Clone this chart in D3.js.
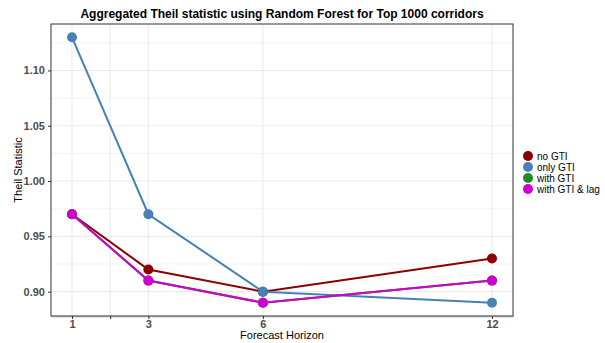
<!DOCTYPE html>
<html>
<head>
<meta charset="utf-8">
<script src="https://cdn.jsdelivr.net/npm/d3@7"></script>
<style>
  html, body { margin: 0; padding: 0; background: #fff; }
  svg { display: block; font-family: "Liberation Sans", Arial, sans-serif; }
</style>
</head>
<body>
<svg id="chart" width="605" height="343"></svg>
<script>
// Forecast horizons and aggregated Theil statistic per model variant
const horizons = [1, 3, 6, 12];
const seriesNames = ["no GTI", "only GTI", "with GTI", "with GTI & lag"];
const noGTI = [0.97, 0.92, 0.90, 0.93];
const onlyGTI = [1.13, 0.97, 0.90, 0.89];
const withGTI = [0.97, 0.91, 0.89, 0.91];
const withGTILag = [0.97, 0.91, 0.89, 0.91];
const seriesColors = ["#8B0000", "#4682B4", "#228B22", "#CD00CD"];

const xTickValues = [1, 2, 3, 6, 12];
const xTickLabels = ["1", "", "3", "6", "12"];
const yTickValues = [0.90, 0.95, 1.00, 1.05, 1.10];
const yMinorValues = [0.925, 0.975, 1.025, 1.075, 1.125];

const titleText = "Aggregated Theil statistic using Random Forest for Top 1000 corridors";
const xTitle = "Forecast Horizon";
const yTitle = "Theil Statistic";

const seriesValues = [noGTI, onlyGTI, withGTI, withGTILag];
const series = seriesNames.map((name, i) => ({
  name, color: seriesColors[i],
  points: horizons.map((h, j) => ({ h, v: seriesValues[i][j] }))
}));

const svg = d3.select("#chart");
const panel = { left: 51, right: 513, top: 24, bottom: 316 };

// Data range padded by 5% on each side
const xExt = d3.extent(horizons);
const xPad = (xExt[1] - xExt[0]) * 0.05;
const allVals = seriesValues.flat();
const yExt = d3.extent(allVals);
const yPad = (yExt[1] - yExt[0]) * 0.05;

const x = d3.scaleLinear().domain([xExt[0] - xPad, xExt[1] + xPad]).range([panel.left, panel.right]);
const y = d3.scaleLinear().domain([yExt[0] - yPad, yExt[1] + yPad]).range([panel.bottom, panel.top]);

// Grid
const grid = svg.append("g");
grid.selectAll(".ymin").data(yMinorValues).join("line")
  .attr("x1", panel.left).attr("x2", panel.right)
  .attr("y1", d => y(d)).attr("y2", d => y(d))
  .attr("stroke", "#F0F0F0").attr("stroke-width", 0.8);
grid.selectAll(".ymaj").data(yTickValues).join("line")
  .attr("x1", panel.left).attr("x2", panel.right)
  .attr("y1", d => y(d)).attr("y2", d => y(d))
  .attr("stroke", "#EBEBEB").attr("stroke-width", 1.1);
grid.selectAll(".xmaj").data(xTickValues).join("line")
  .attr("y1", panel.top).attr("y2", panel.bottom)
  .attr("x1", d => x(d)).attr("x2", d => x(d))
  .attr("stroke", "#EBEBEB").attr("stroke-width", 1.1);

// Lines then points
const line = d3.line().x(d => x(d.h)).y(d => y(d.v));
svg.append("g").selectAll("path").data(series).join("path")
  .attr("d", d => line(d.points))
  .attr("fill", "none")
  .attr("stroke", d => d.color)
  .attr("stroke-width", 2);

svg.append("g").selectAll("g").data(series).join("g")
  .attr("fill", d => d.color)
  .selectAll("circle").data(d => d.points).join("circle")
  .attr("cx", d => x(d.h)).attr("cy", d => y(d.v)).attr("r", 5);

// Panel border
svg.append("rect")
  .attr("x", panel.left).attr("y", panel.top)
  .attr("width", panel.right - panel.left).attr("height", panel.bottom - panel.top)
  .attr("fill", "none").attr("stroke", "#333").attr("stroke-width", 1);

// Axes
const yAxis = d3.axisLeft(y).tickValues(yTickValues).tickFormat(d3.format(".2f")).tickSize(3).tickPadding(3);
const gy = svg.append("g").attr("transform", `translate(${panel.left},0)`).call(yAxis);
gy.select(".domain").remove();
gy.selectAll(".tick line").attr("stroke", "#333");
gy.selectAll(".tick text").attr("fill", "#4D4D4D").attr("font-size", 11).attr("font-weight", "bold")
  .attr("font-family", "Liberation Sans, Arial, sans-serif");

const xAxis = d3.axisBottom(x).tickValues(xTickValues).tickFormat((d, i) => xTickLabels[i])
  .tickSizeInner(3).tickSizeOuter(0).tickPadding(1);
const gx = svg.append("g").attr("transform", `translate(0,${panel.bottom})`).call(xAxis);
gx.select(".domain").attr("stroke", "#888").attr("stroke-width", 1.5);
gx.selectAll(".tick line").attr("stroke", "#333");
gx.selectAll(".tick text").attr("fill", "#4D4D4D").attr("font-size", 11).attr("font-weight", "bold")
  .attr("font-family", "Liberation Sans, Arial, sans-serif");

// Titles
const cx = (panel.left + panel.right) / 2;
svg.append("text").attr("x", cx).attr("y", 18).attr("text-anchor", "middle")
  .attr("font-size", 12).attr("font-weight", "bold").attr("fill", "#000").text(titleText);
svg.append("text").attr("x", cx).attr("y", 339).attr("text-anchor", "middle")
  .attr("font-size", 11).attr("fill", "#000").text(xTitle);
svg.append("text").attr("transform", `translate(22,${(panel.top + panel.bottom) / 2}) rotate(-90)`)
  .attr("text-anchor", "middle").attr("font-size", 11).attr("fill", "#000").text(yTitle);

// Legend
const legend = svg.append("g").attr("transform", "translate(528,156)");
const items = legend.selectAll("g").data(series).join("g")
  .attr("transform", (d, i) => `translate(0,${i * 11})`);
items.append("circle").attr("r", 5).attr("fill", d => d.color);
items.append("text").attr("x", 9).attr("y", 3.5).attr("font-size", 10).attr("fill", "#000").text(d => d.name);
</script>
</body>
</html>
